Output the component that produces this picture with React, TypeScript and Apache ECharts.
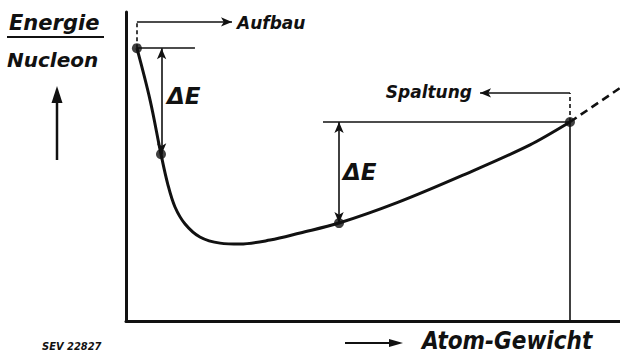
import React, { useEffect, useRef } from "react";
import * as echarts from "echarts";

// Schematic: binding energy per nucleon vs atomic weight (arbitrary units)
const curveX = [5.3, 11.7, 17.0, 20.4, 23.8, 28.7, 35.9, 45.7, 55.4, 70.0, 84.6, 103.5, 131.7, 163.7, 196.3, 215.7];
const curveY = [88.3, 71.5, 54.0, 44.0, 36.9, 31.4, 27.2, 25.2, 24.9, 26.2, 28.5, 31.7, 38.3, 47.2, 57.0, 64.4];
const extX = [215.7, 240];
const extY = [64.4, 75.4];
const keyX = [5.3, 17.0, 103.5, 215.7];
const keyY = [88.3, 54.0, 31.7, 64.4];
const aufbauY = 96.8;
const aufbauEndX = 51.5;
const leftRefEndX = 33.5;
const rightRefStartX = 95.7;
const spaltungY = 73.8;
const spaltungEndX = 172;

const WIDE = '"DejaVu Sans", "Liberation Sans", sans-serif';
const NARROW = '"DejaVu Sans Condensed", "Liberation Sans Narrow", "DejaVu Sans", sans-serif';

export default function App() {
  const ref = useRef<HTMLDivElement>(null);
  useEffect(() => {
    document.body.style.margin = "0";
    const chart = echarts.init(ref.current!, null, { renderer: "svg" });
    const [A, B, C, D] = keyX.map((x, i) => [x, keyY[i]]);
    const thin = { color: "#111", width: 1.6, type: "solid" as const };
    const dashed = { color: "#111", width: 1.6, type: [4, 3] as any };
    const seg = (p: number[], q: number[], s1: string, s2: string, ls: any) => [
      { coord: p, symbol: s1, lineStyle: ls },
      { coord: q, symbol: s2 },
    ];
    chart.setOption({
      animation: false,
      backgroundColor: "#ffffff",
      grid: { left: 126, right: 0, top: 12, bottom: 35 },
      xAxis: {
        type: "value", min: 0, max: 240,
        axisLine: { show: true, onZero: false, lineStyle: { color: "#111", width: 3 } },
        axisTick: { show: false }, axisLabel: { show: false }, splitLine: { show: false },
      },
      yAxis: {
        type: "value", min: 0, max: 100,
        axisLine: { show: true, onZero: false, lineStyle: { color: "#111", width: 3 } },
        axisTick: { show: false }, axisLabel: { show: false }, splitLine: { show: false },
      },
      series: [
        {
          type: "line",
          data: curveX.map((x, i) => [x, curveY[i]]),
          smooth: 0.35,
          showSymbol: false,
          lineStyle: { color: "#111", width: 3 },
          markLine: {
            silent: true,
            animation: false,
            symbolSize: [7, 11],
            label: { show: false },
            emphasis: { disabled: true },
            data: [
              seg(A, [A[0], aufbauY], "none", "none", dashed),
              seg([A[0], aufbauY], [aufbauEndX, aufbauY], "none", "arrow", thin),
              seg(A, [leftRefEndX, A[1]], "none", "none", thin),
              seg([B[0] + 0.3, A[1]], [B[0] + 0.3, B[1]], "arrow", "arrow", thin),
              seg([rightRefStartX, D[1]], D, "none", "none", thin),
              seg([C[0], D[1]], C, "arrow", "arrow", thin),
              seg(D, [D[0], 0], "none", "none", thin),
              seg(D, [D[0], spaltungY], "none", "none", dashed),
              seg([D[0], spaltungY], [spaltungEndX, spaltungY], "none", "arrow", thin),
            ],
          },
        },
        {
          type: "line",
          data: extX.map((x, i) => [x, extY[i]]),
          showSymbol: false,
          lineStyle: { color: "#111", width: 2.6, type: [8, 5] },
        },
        {
          type: "scatter",
          data: keyX.map((x, i) => [x, keyY[i]]),
          symbolSize: 10,
          itemStyle: { color: "#111" },
        },
      ],
      graphic: [
        { type: "text", x: 9, y: 23, style: { text: "Energie", font: `italic bold 21px ${WIDE}`, fill: "#111", verticalAlign: "middle" } },
        { type: "line", shape: { x1: 7, y1: 37, x2: 104, y2: 37 }, style: { stroke: "#111", lineWidth: 2 } },
        { type: "text", x: 7, y: 60, style: { text: "Nucleon", font: `italic bold 20px ${WIDE}`, fill: "#111", verticalAlign: "middle" } },
        { type: "line", shape: { x1: 57, y1: 160, x2: 57, y2: 98 }, style: { stroke: "#111", lineWidth: 2.5 } },
        { type: "polygon", shape: { points: [[57, 86], [51.5, 103], [62.5, 103]] }, style: { fill: "#111" } },
        { type: "text", x: 237, y: 23, style: { text: "Aufbau", font: `italic bold 17px ${WIDE}`, fill: "#111", verticalAlign: "middle" } },
        { type: "text", x: 472, y: 92, style: { text: "Spaltung", font: `italic bold 17px ${WIDE}`, fill: "#111", verticalAlign: "middle", align: "right" } },
        { type: "text", x: 167, y: 96, style: { text: "ΔE", font: `italic bold 23px ${WIDE}`, fill: "#111", verticalAlign: "middle" } },
        { type: "text", x: 343, y: 172, style: { text: "ΔE", font: `italic bold 23px ${WIDE}`, fill: "#111", verticalAlign: "middle" } },
        { type: "line", shape: { x1: 345, y1: 343, x2: 392, y2: 343 }, style: { stroke: "#111", lineWidth: 2.2 } },
        { type: "polygon", shape: { points: [[403, 343], [389, 339], [389, 347]] }, style: { fill: "#111" } },
        { type: "text", x: 422, y: 341, style: { text: "Atom-Gewicht", font: `italic bold 24px ${NARROW}`, fill: "#111", verticalAlign: "middle" } },
        { type: "text", x: 42, y: 346, style: { text: "SEV 22827", font: `italic bold 11px ${NARROW}`, fill: "#111", verticalAlign: "middle" } },
      ],
    });
    return () => chart.dispose();
  }, []);
  return <div ref={ref} style={{ width: 620, height: 356 }} />;
}
